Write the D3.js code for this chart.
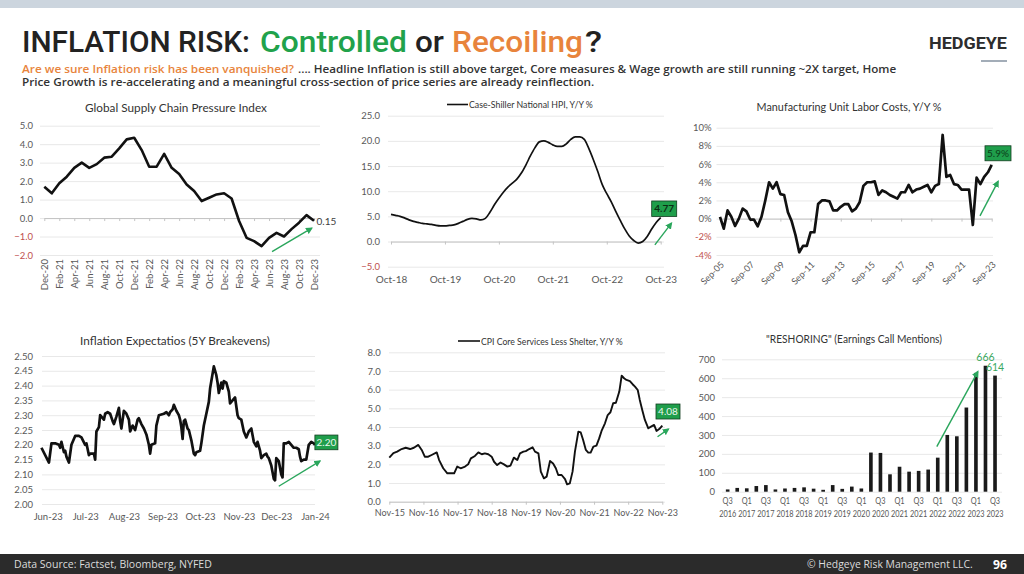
<!DOCTYPE html>
<html>
<head>
<meta charset="utf-8">
<script src="https://cdn.jsdelivr.net/npm/d3@7"></script>
<style>
  html, body { margin: 0; padding: 0; background: #fff; }
  svg { display: block; }
</style>
</head>
<body>
<svg id="chart"></svg>
<script>
// ---------- data ----------
// Global Supply Chain Pressure Index, monthly Dec-20 .. Dec-23
const gscpiLabels = ["Dec-20","Feb-21","Apr-21","Jun-21","Aug-21","Oct-21","Dec-21","Feb-22","Apr-22","Jun-22",
  "Aug-22","Oct-22","Dec-22","Feb-23","Apr-23","Jun-23","Aug-23","Oct-23","Dec-23"];
const gscpi = [1.70,1.34,1.88,2.24,2.72,3.00,2.72,2.92,3.27,3.32,3.77,4.26,4.35,3.68,2.78,2.78,3.47,2.72,2.38,1.82,
  1.46,0.92,1.10,1.28,1.34,1.06,-0.16,-1.07,-1.25,-1.52,-1.07,-0.80,-1.00,-0.60,-0.25,0.16,-0.15];
const gscpiTicks = [-2,-1,0,1,2,3,4,5];

// Case-Shiller National HPI Y/Y %, monthly Oct-18 .. Oct-23
const hpiLabels = ["Oct-18","Oct-19","Oct-20","Oct-21","Oct-22","Oct-23"];
const hpi = [5.4,5.2,5.0,4.7,4.3,4.0,3.8,3.6,3.5,3.4, 3.2,3.1,3.1,3.2,3.3,3.6,4.0,4.4,4.6,4.5,
  4.3,4.6,5.8,7.3,8.6,9.8,10.8,11.6,12.4,13.6, 15.2,17.0,18.6,19.8,20.0,19.7,19.2,18.9,18.9,19.4,
  20.3,20.8,20.8,20.3,18.5,16.3,13.9,11.3,9.5,7.9, 6.0,4.2,2.5,1.1,0.2,-0.3,0.0,1.0,2.5,3.8, 4.77];
const hpiTicks = [-5,0,5,10,15,20,25];

// Manufacturing unit labor costs Y/Y %, quarterly Sep-05 .. Sep-23
const ulcLabels = ["Sep-05","Sep-07","Sep-09","Sep-11","Sep-13","Sep-15","Sep-17","Sep-19","Sep-21","Sep-23"];
const ulc = [0.2,-1.1,0.9,0.2,-0.8,0,1.1,0.8,-0.1,-0.1, -0.85,0.2,2.0,4.0,3.3,4.0,2.7,2.6,0.7,-0.3,
  -1.8,-3.7,-3.0,-3.0,-1.5,-1.5,1.6,2.0,2.0,1.9, 0.9,0.9,1.3,1.6,1.6,0.8,1.1,1.8,3.6,4.0,
  4.0,4.1,2.6,3.1,2.9,2.6,2.4,2.2,2.9,2.9, 3.7,2.9,3.2,3.3,3.5,3.7,2.9,3.6,3.8,9.2,
  4.6,4.8,3.8,3.7,3.2,3.2,3.2,-0.7,4.5,3.8, 4.6,5.1,5.9];
const ulcTicks = [-4,-2,0,2,4,6,8,10];

// 5Y breakevens, days since 2023-06-01
const beMonths = ["Jun-23","Jul-23","Aug-23","Sep-23","Oct-23","Nov-23","Dec-23","Jan-24"];
const beDay = [-5,1,3,6,9,10,11,13,14,15,17,19,22,25,27,30,31,33,34,37,38,39,41,42,45,46,48,50,52,53,
  55,57,58,59,61,63,65,66,68,70,72,73,75,77,79,81,82,83,86,87,89,93,95,97,98,100,101,103,105,106,
  107,108,109,110,112,113,115,117,118,119,122,123,125,127,129,130,133,135,136,137,139,140,141,143,145,146,148,150,152,153,
  155,157,159,160,161,163,165,167,168,170,171,173,175,176,177,179,181,182,183,185,187,188,189,191,193,195,197,199,201,202,
  203,205,207,209,211,213,214];
const beVal = [2.19,2.14,2.205,2.205,2.20,2.19,2.21,2.175,2.18,2.16,2.14,2.20,2.23,2.23,2.225,2.20,2.205,2.165,2.17,2.17,
  2.15,2.245,2.26,2.30,2.285,2.305,2.31,2.305,2.28,2.27,2.295,2.325,2.28,2.255,2.315,2.305,2.285,2.245,2.265,2.25,
  2.285,2.29,2.27,2.255,2.235,2.20,2.17,2.20,2.205,2.265,2.30,2.305,2.31,2.30,2.31,2.32,2.335,2.315,2.30,2.285,
  2.26,2.22,2.28,2.285,2.255,2.25,2.215,2.17,2.165,2.175,2.18,2.205,2.265,2.305,2.345,2.39,2.465,2.435,2.41,2.375,
  2.41,2.39,2.415,2.41,2.38,2.34,2.35,2.36,2.30,2.29,2.285,2.245,2.225,2.235,2.245,2.255,2.21,2.195,2.21,2.18,
  2.155,2.165,2.17,2.16,2.155,2.13,2.085,2.08,2.155,2.145,2.10,2.09,2.205,2.205,2.21,2.20,2.19,2.19,2.185,2.16,
  2.145,2.15,2.15,2.20,2.21,2.205,2.20];
const beTicks = [2.00,2.05,2.10,2.15,2.20,2.25,2.30,2.35,2.40,2.45,2.50];

// CPI core services less shelter Y/Y %, years since Nov-15
const cpiLabels = ["Nov-15","Nov-16","Nov-17","Nov-18","Nov-19","Nov-20","Nov-21","Nov-22","Nov-23"];
const cpiT = [0,0.12,0.23,0.36,0.48,0.61,0.72,0.85,0.95,1.04, 1.14,1.24,1.39,1.46,1.58,1.70,1.83,1.90,1.99,2.09,
  2.22,2.31,2.39,2.51,2.61,2.71,2.80,2.90,3.00,3.07, 3.16,3.26,3.36,3.46,3.55,3.65,3.75,3.83,3.93,4.00,
  4.10,4.20,4.27,4.37,4.44,4.53,4.61,4.71,4.80,4.88, 4.95,5.05,5.15,5.21,5.29,5.37,5.44,5.54,5.61,5.68,
  5.76,5.83,5.90,5.98,6.07,6.15,6.22,6.32,6.40,6.48, 6.56,6.64,6.74,6.81,6.88,6.95,7.05,7.13,7.20,7.28,
  7.34,7.42,7.49,7.59,7.67,7.76,7.83,7.91,8.00];
const cpiVal = [2.36,2.6,2.68,2.82,2.89,2.82,2.89,3.04,2.77,2.41, 2.41,2.5,2.64,2.23,1.79,1.52,1.52,1.52,1.88,1.79,
  1.88,2.0,2.32,2.45,2.64,2.54,2.59,2.54,2.41,2.14, 1.96,2.1,2.0,1.88,1.93,2.36,2.23,2.59,2.68,2.71,
  2.82,2.91,2.68,2.59,1.61,1.25,1.34,2.18,2.05,1.79, 1.43,1.43,1.21,0.93,0.98,1.61,2.68,3.75,3.71,3.30,
  2.77,2.63,2.63,2.95,3.0,3.39,3.79,4.2,4.64,4.79, 5.27,5.3,5.9,6.75,6.61,6.52,6.46,6.29,6.16,5.98,
  5.45,4.86,4.38,3.93,4.02,4.11,3.79,3.89,4.08];
const cpiTicks = [0,1,2,3,4,5,6,7,8];

// "Reshoring" earnings call mentions, quarterly
const reshoreQ = ["Q3 2016","Q4 2016","Q1 2017","Q2 2017","Q3 2017","Q4 2017","Q1 2018","Q2 2018","Q3 2018","Q4 2018",
  "Q1 2019","Q2 2019","Q3 2019","Q4 2019","Q1 2020","Q2 2020","Q3 2020","Q4 2020","Q1 2021","Q2 2021",
  "Q3 2021","Q4 2021","Q1 2022","Q2 2022","Q3 2022","Q4 2022","Q1 2023","Q2 2023","Q3 2023"];
const reshore = [12,20,18,30,35,12,17,20,23,16,10,35,15,27,17,207,205,92,132,106,110,117,180,300,293,445,628,666,614];
const reshoreTicks = [0,100,200,300,400,500,600,700];

// labels written at the end of each series
const endLabels = ["0.15","4.77","5.9%","2.20","4.08"];

// green trend arrows, in data units [x, y] -> [x, y]
const gscpiArrow = [[30.4,-1.82],[35.7,-0.55]];
const hpiArrow = [[58.7,-0.65],[62.4,3.65]];
const ulcArrow = [[68.9,0.3],[73.7,4.1]];
const beArrow = [[185,2.06],[218,2.145]];
const cpiArrow = [[7.86,3.48],[8.18,3.89]];
const reshoreArrow = [[21.9,238],[26.2,635]];

// ---------- setup ----------
const width = 1024, height = 574;
const svg = d3.select('#chart')
  .attr('width', width).attr('height', height)
  .attr('viewBox', `0 0 ${width} ${height}`);

const FONT = 'Lato, "Open Sans", sans-serif';
const GREEN = '#21a24b', ORANGE = '#e8843c', RED = '#c0504d';
const GRID = '#e2e2e2', AXIS = '#c4c4c4', TICK = '#595959';
const ARROW = '#2aa65c', BOX = '#1f9e4b';

svg.append('defs').append('marker')
  .attr('id', 'ah').attr('viewBox', '0 0 10 10')
  .attr('refX', 8).attr('refY', 5)
  .attr('markerWidth', 7).attr('markerHeight', 7)
  .attr('markerUnits', 'userSpaceOnUse').attr('orient', 'auto')
  .append('path').attr('d', 'M0,0L10,5L0,10z').attr('fill', ARROW);

// squeeze / stretch a text to a measured width
function fitText(t, x, y, w) {
  const len = t.node().getComputedTextLength();
  t.attr('transform', `translate(${x},${y}) scale(${(w / len).toFixed(4)},1)`);
  return t;
}

const tickStyle = (g, size) => g
  .attr('font-family', FONT)
  .call(g => g.selectAll('.tick text').attr('fill', d => d < 0 ? RED : TICK).attr('font-size', size || 9.5));

function yGrid(g, y, ticks, x0, x1, labelRight, fmt) {
  g.append('g')
    .attr('transform', `translate(${x0},0)`)
    .call(d3.axisLeft(y).tickValues(ticks).tickFormat(fmt).tickSize(-(x1 - x0)).tickPadding(x0 - labelRight))
    .call(g => g.select('.domain').remove())
    .call(g => g.selectAll('.tick line').attr('stroke', GRID).attr('stroke-width', 0.8))
    .call(tickStyle);
}

function panelTitle(txt, cx, y, w) {
  const t = svg.append('text')
    .attr('font-family', FONT).attr('font-size', 12).attr('fill', '#333')
    .attr('text-anchor', 'middle').text(txt);
  fitText(t, cx, y, w);
}

function legend(txt, x0, x1, y, w) {
  svg.append('line').attr('x1', x0).attr('x2', x1).attr('y1', y).attr('y2', y)
    .attr('stroke', '#111').attr('stroke-width', 1.6);
  const t = svg.append('text')
    .attr('font-family', FONT).attr('font-size', 10).attr('fill', '#333').text(txt);
  fitText(t, x1 + 1, y + 3.5, w);
}

function arrow(g, x, y, pts) {
  g.append('line')
    .attr('x1', x(pts[0][0])).attr('y1', y(pts[0][1]))
    .attr('x2', x(pts[1][0])).attr('y2', y(pts[1][1]))
    .attr('stroke', ARROW).attr('stroke-width', 1.4)
    .attr('marker-end', 'url(#ah)');
}

function callout(g, px, py, dx, dy, w, h, txt, color, weight) {
  const cx = px + dx, cy = py + dy;
  g.append('rect')
    .attr('x', cx - w / 2).attr('y', cy - h / 2).attr('width', w).attr('height', h)
    .attr('fill', BOX).attr('stroke', '#123d20').attr('stroke-width', 0.8);
  g.append('text')
    .attr('x', cx).attr('y', cy).attr('dy', '0.36em').attr('text-anchor', 'middle')
    .attr('font-family', FONT).attr('font-size', 10).attr('font-weight', weight || 400)
    .attr('fill', color).text(txt);
}

// ---------- header / footer ----------
svg.append('rect').attr('width', width).attr('height', 8).attr('fill', '#ccd5de');

const HEAD = 'Roboto, "Open Sans", sans-serif';
// title words, each squeezed into the slot it takes on the slide
const titleParts = [
  ['INFLATION RISK:', '#222', 22, 228],
  ['Controlled', GREEN, 260, 147],
  ['or', '#222', 415, 29],
  ['Recoiling', ORANGE, 452, 131],
  ['?', '#222', 585, 17]
];
titleParts.forEach(([txt, col, x, w]) => {
  const t = svg.append('text').attr('font-family', HEAD).attr('font-weight', 500)
    .attr('font-size', 30).attr('fill', col).text(txt);
  fitText(t, x, 52, w);
});

const SUB = '"Open Sans", sans-serif';
const s1a = svg.append('text').attr('font-family', SUB).attr('font-weight', 600)
  .attr('font-size', 11).attr('fill', ORANGE).text('Are we sure Inflation risk has been vanquished?');
fitText(s1a, 22, 73, 272);
const s1b = svg.append('text').attr('font-family', SUB).attr('font-weight', 600)
  .attr('font-size', 11).attr('fill', '#333')
  .text('.... Headline Inflation is still above target, Core measures & Wage growth are still running ~2X target, Home');
fitText(s1b, 298, 73, 599);
const sub2 = svg.append('text').attr('font-family', SUB).attr('font-weight', 600)
  .attr('font-size', 11).attr('fill', '#333')
  .text('Price Growth is re-accelerating and a meaningful cross-section of price series are already reinflection.');
fitText(sub2, 22, 86, 573);

const logo = svg.append('text')
  .attr('font-family', HEAD).attr('font-weight', 700)
  .attr('font-size', 17).attr('fill', '#2d2d2d').text('HEDGEYE');
fitText(logo, 929, 49, 78);
svg.append('line').attr('x1', 981).attr('x2', 1007).attr('y1', 61).attr('y2', 61)
  .attr('stroke', '#a3adb8').attr('stroke-width', 2);

svg.append('rect').attr('x', 0).attr('y', 554).attr('width', width).attr('height', 20).attr('fill', '#2b2b2b');
const src = svg.append('text').attr('font-family', SUB).attr('font-size', 10)
  .attr('fill', '#dcdcdc').text('Data Source: Factset, Bloomberg, NYFED');
fitText(src, 14, 568, 198);
const copy = svg.append('text').attr('font-family', SUB).attr('font-size', 10)
  .attr('fill', '#dcdcdc').text('\u00a9 Hedgeye Risk Management LLC.');
fitText(copy, 807, 568, 166);
const page = svg.append('text').attr('font-family', SUB).attr('font-size', 12)
  .attr('font-weight', 700).attr('fill', '#fff').text('96');
fitText(page, 993, 569, 14);

// ---------- 1. Global Supply Chain Pressure Index ----------
const p1 = svg.append('g');
const x1 = d3.scaleLinear().domain([0, gscpi.length - 1]).range([44.3, 314]);
const y1 = d3.scaleLinear().domain([-2, 5]).range([255, 125.7]);
panelTitle('Global Supply Chain Pressure Index', 176, 112, 182);
yGrid(p1, y1, gscpiTicks, 40, 320, 33, d3.format('.1f'));
p1.append('g')
  .attr('transform', `translate(0,${y1(0)})`)
  .call(d3.axisBottom(x1).tickValues(d3.range(0, gscpi.length, 2)).tickSize(3).tickSizeOuter(0)
    .tickFormat((d, i) => gscpiLabels[i]))
  .call(g => g.select('.domain').attr('stroke', AXIS))
  .call(g => g.selectAll('.tick line').attr('stroke', AXIS))
  .call(tickStyle)
  .call(g => g.selectAll('.tick text')
    .attr('x', 0).attr('y', 0).attr('dy', '0.35em').attr('text-anchor', 'end')
    .attr('transform', `translate(0,${259 - y1(0)}) rotate(-90)`));
p1.append('path')
  .datum(gscpi)
  .attr('fill', 'none').attr('stroke', '#111').attr('stroke-width', 2.6)
  .attr('stroke-linejoin', 'round')
  .attr('d', d3.line().x((d, i) => x1(i)).y(d => y1(d)));
p1.append('text')
  .attr('x', x1(gscpi.length - 1) + 2.5).attr('y', y1(gscpi[gscpi.length - 1]) + 4)
  .attr('font-family', FONT).attr('font-size', 10).attr('fill', '#404040').text(endLabels[0]);
arrow(p1, x1, y1, gscpiArrow);

// ---------- 2. Case-Shiller ----------
const p2 = svg.append('g');
const x2 = d3.scaleLinear().domain([0, hpi.length - 1]).range([391, 660.7]);
const y2 = d3.scaleLinear().domain([-5, 25]).range([266.7, 115.7]);
legend('Case-Shiller National HPI, Y/Y %', 447, 468, 104.5, 124);
yGrid(p2, y2, hpiTicks, 388, 664, 380, d3.format('.1f'));
p2.append('g')
  .attr('transform', `translate(0,${y2(0)})`)
  .call(d3.axisBottom(x2).tickValues(d3.range(0, hpi.length, 12)).tickSize(3).tickSizeOuter(0)
    .tickFormat((d, i) => hpiLabels[i]))
  .call(g => g.select('.domain').attr('stroke', AXIS))
  .call(g => g.selectAll('.tick line').attr('stroke', AXIS))
  .call(tickStyle)
  .call(g => g.selectAll('.tick text').attr('y', y2(-5) - y2(0) + 9).attr('font-size', 10));
p2.append('path')
  .datum(hpi)
  .attr('fill', 'none').attr('stroke', '#111').attr('stroke-width', 1.7)
  .attr('d', d3.line().curve(d3.curveMonotoneX).x((d, i) => x2(i)).y(d => y2(d)));
callout(p2, x2(hpi.length - 1), y2(hpi[hpi.length - 1]), 3.5, -8.8, 25, 15.5, endLabels[1], '#0b2e14', 700);
arrow(p2, x2, y2, hpiArrow);

// ---------- 3. Manufacturing unit labor costs ----------
const p3 = svg.append('g');
const x3 = d3.scaleLinear().domain([0, ulc.length - 1]).range([720, 991.7]);
const y3 = d3.scaleLinear().domain([-4, 10]).range([255, 127.7]);
panelTitle('Manufacturing Unit Labor Costs, Y/Y %', 849, 111, 185);
yGrid(p3, y3, ulcTicks, 716.5, 993, 711.7, d => d + '%');
p3.append('g')
  .attr('transform', `translate(0,${y3(0)})`)
  .call(d3.axisBottom(x3).tickValues(d3.range(0, ulc.length, 8)).tickSize(3).tickSizeOuter(0)
    .tickFormat((d, i) => ulcLabels[i]))
  .call(g => g.select('.domain').attr('stroke', AXIS))
  .call(g => g.selectAll('.tick line').attr('stroke', AXIS))
  .call(tickStyle, 9)
  .call(g => g.selectAll('.tick text')
    .attr('x', 0).attr('y', 0).attr('dy', '0.35em').attr('text-anchor', 'end')
    .attr('transform', `translate(2,${263 - y3(0)}) rotate(-45)`));
p3.append('path')
  .datum(ulc)
  .attr('fill', 'none').attr('stroke', '#111').attr('stroke-width', 2.7)
  .attr('stroke-linejoin', 'round')
  .attr('d', d3.line().x((d, i) => x3(i)).y(d => y3(d)));
callout(p3, x3(ulc.length - 1), y3(ulc[ulc.length - 1]), 6.3, -11.7, 26, 15, endLabels[2], '#0b3d1a', 400);
arrow(p3, x3, y3, ulcArrow);

// ---------- 4. 5Y breakevens ----------
const p4 = svg.append('g');
const beStart = new Date(2023, 5, 1);
const beDate = d => d3.timeDay.offset(beStart, d);
const x4 = d3.scaleTime().domain([beStart, new Date(2024, 0, 1)]).range([47.7, 315]);
const x4d = d => x4(beDate(d));
const y4 = d3.scaleLinear().domain([2.0, 2.5]).range([504, 356]);
panelTitle('Inflation Expectatios (5Y Breakevens)', 175, 344.5, 190);
yGrid(p4, y4, beTicks, 42, 315, 33, d3.format('.2f'));
p4.append('g')
  .attr('transform', `translate(0,${y4(2.0)})`)
  .call(d3.axisBottom(x4).tickValues(d3.timeMonth.range(beStart, new Date(2024, 0, 2))).tickSize(0)
    .tickPadding(9).tickFormat((d, i) => beMonths[i]))
  .call(g => g.select('.domain').remove())
  .call(tickStyle);
p4.append('path')
  .datum(d3.zip(beDay, beVal))
  .attr('fill', 'none').attr('stroke', '#111').attr('stroke-width', 2.7)
  .attr('stroke-linejoin', 'round')
  .attr('d', d3.line().x(d => x4d(d[0])).y(d => y4(d[1])));
callout(p4, x4d(beDay[beDay.length - 1]), y4(beVal[beVal.length - 1]), 11.4, -2.4, 23, 14.7, endLabels[3], '#eaf7ee', 400);
arrow(p4, x4d, y4, beArrow);

// ---------- 5. CPI core services less shelter ----------
const p5 = svg.append('g');
const x5 = d3.scaleLinear().domain([0, 8]).range([389.3, 662.3]);
const y5 = d3.scaleLinear().domain([0, 8]).range([501.7, 352.3]);
legend('CPI Core Services Less Shelter, Y/Y %', 458, 480, 341, 142);
yGrid(p5, y5, cpiTicks, 389, 665, 380.7, d3.format('.1f'));
p5.append('g')
  .attr('transform', `translate(0,${y5(0)})`)
  .call(d3.axisBottom(x5).tickValues(d3.range(0, 9)).tickSize(3).tickSizeOuter(0).tickPadding(5)
    .tickFormat((d, i) => cpiLabels[i]))
  .call(g => g.select('.domain').attr('stroke', AXIS))
  .call(g => g.selectAll('.tick line').attr('stroke', AXIS))
  .call(tickStyle, 9);
p5.append('path')
  .datum(d3.zip(cpiT, cpiVal))
  .attr('fill', 'none').attr('stroke', '#111').attr('stroke-width', 1.9)
  .attr('stroke-linejoin', 'round')
  .attr('d', d3.line().x(d => x5(d[0])).y(d => y5(d[1])));
callout(p5, x5(cpiT[cpiT.length - 1]), y5(cpiVal[cpiVal.length - 1]), 5.7, -14, 24, 15, endLabels[4], '#eaf7ee', 400);
arrow(p5, x5, y5, cpiArrow);

// ---------- 6. Reshoring mentions ----------
const p6 = svg.append('g');
const x6 = d3.scaleBand().domain(reshoreQ).range([722.9, 999.8]).paddingInner(0.62).paddingOuter(0.31);
const x6i = d3.scaleLinear().domain([0, reshoreQ.length - 1])
  .range([x6(reshoreQ[0]) + x6.bandwidth() / 2, x6(reshoreQ[reshoreQ.length - 1]) + x6.bandwidth() / 2]);
const y6 = d3.scaleLinear().domain([0, 700]).range([491.7, 359.3]);
panelTitle('"RESHORING" (Earnings Call Mentions)', 854, 343, 176);
yGrid(p6, y6, reshoreTicks, 722, 1002, 715, d3.format('d'));
p6.append('g')
  .attr('transform', `translate(0,${y6(0)})`)
  .call(d3.axisBottom(x6).tickValues(reshoreQ.filter((d, i) => i % 2 === 0)).tickSize(0))
  .call(g => g.select('.domain').remove())
  .call(tickStyle, 9)
  .call(g => g.selectAll('.tick text').each(function (d) {
    const parts = d.split(' ');
    // narrow the labels a little, they sit shoulder to shoulder
    const t = d3.select(this).text(null).attr('dy', null).attr('y', 0)
      .attr('transform', 'translate(0,12.5) scale(0.82,1)');
    t.append('tspan').attr('x', 0).text(parts[0]);
    t.append('tspan').attr('x', 0).attr('dy', 12.8).text(parts[1]);
  }));
p6.selectAll('rect.bar')
  .data(reshore)
  .join('rect')
  .attr('class', 'bar')
  .attr('x', (d, i) => x6(reshoreQ[i]))
  .attr('width', x6.bandwidth())
  .attr('y', d => y6(d))
  .attr('height', d => y6(0) - y6(d))
  .attr('fill', '#1a1a1a');
arrow(p6, x6i, y6, reshoreArrow);
p6.selectAll('text.val')
  .data(reshore.slice(-2))
  .join('text')
  .attr('class', 'val')
  .attr('x', (d, i) => x6i(reshore.length - 2 + i))
  .attr('y', d => y6(d) - 4.5)
  .attr('text-anchor', 'middle')
  .attr('font-family', FONT).attr('font-size', 10.5).attr('fill', '#3aa860')
  .text(d => d);
</script>
</body>
</html>
